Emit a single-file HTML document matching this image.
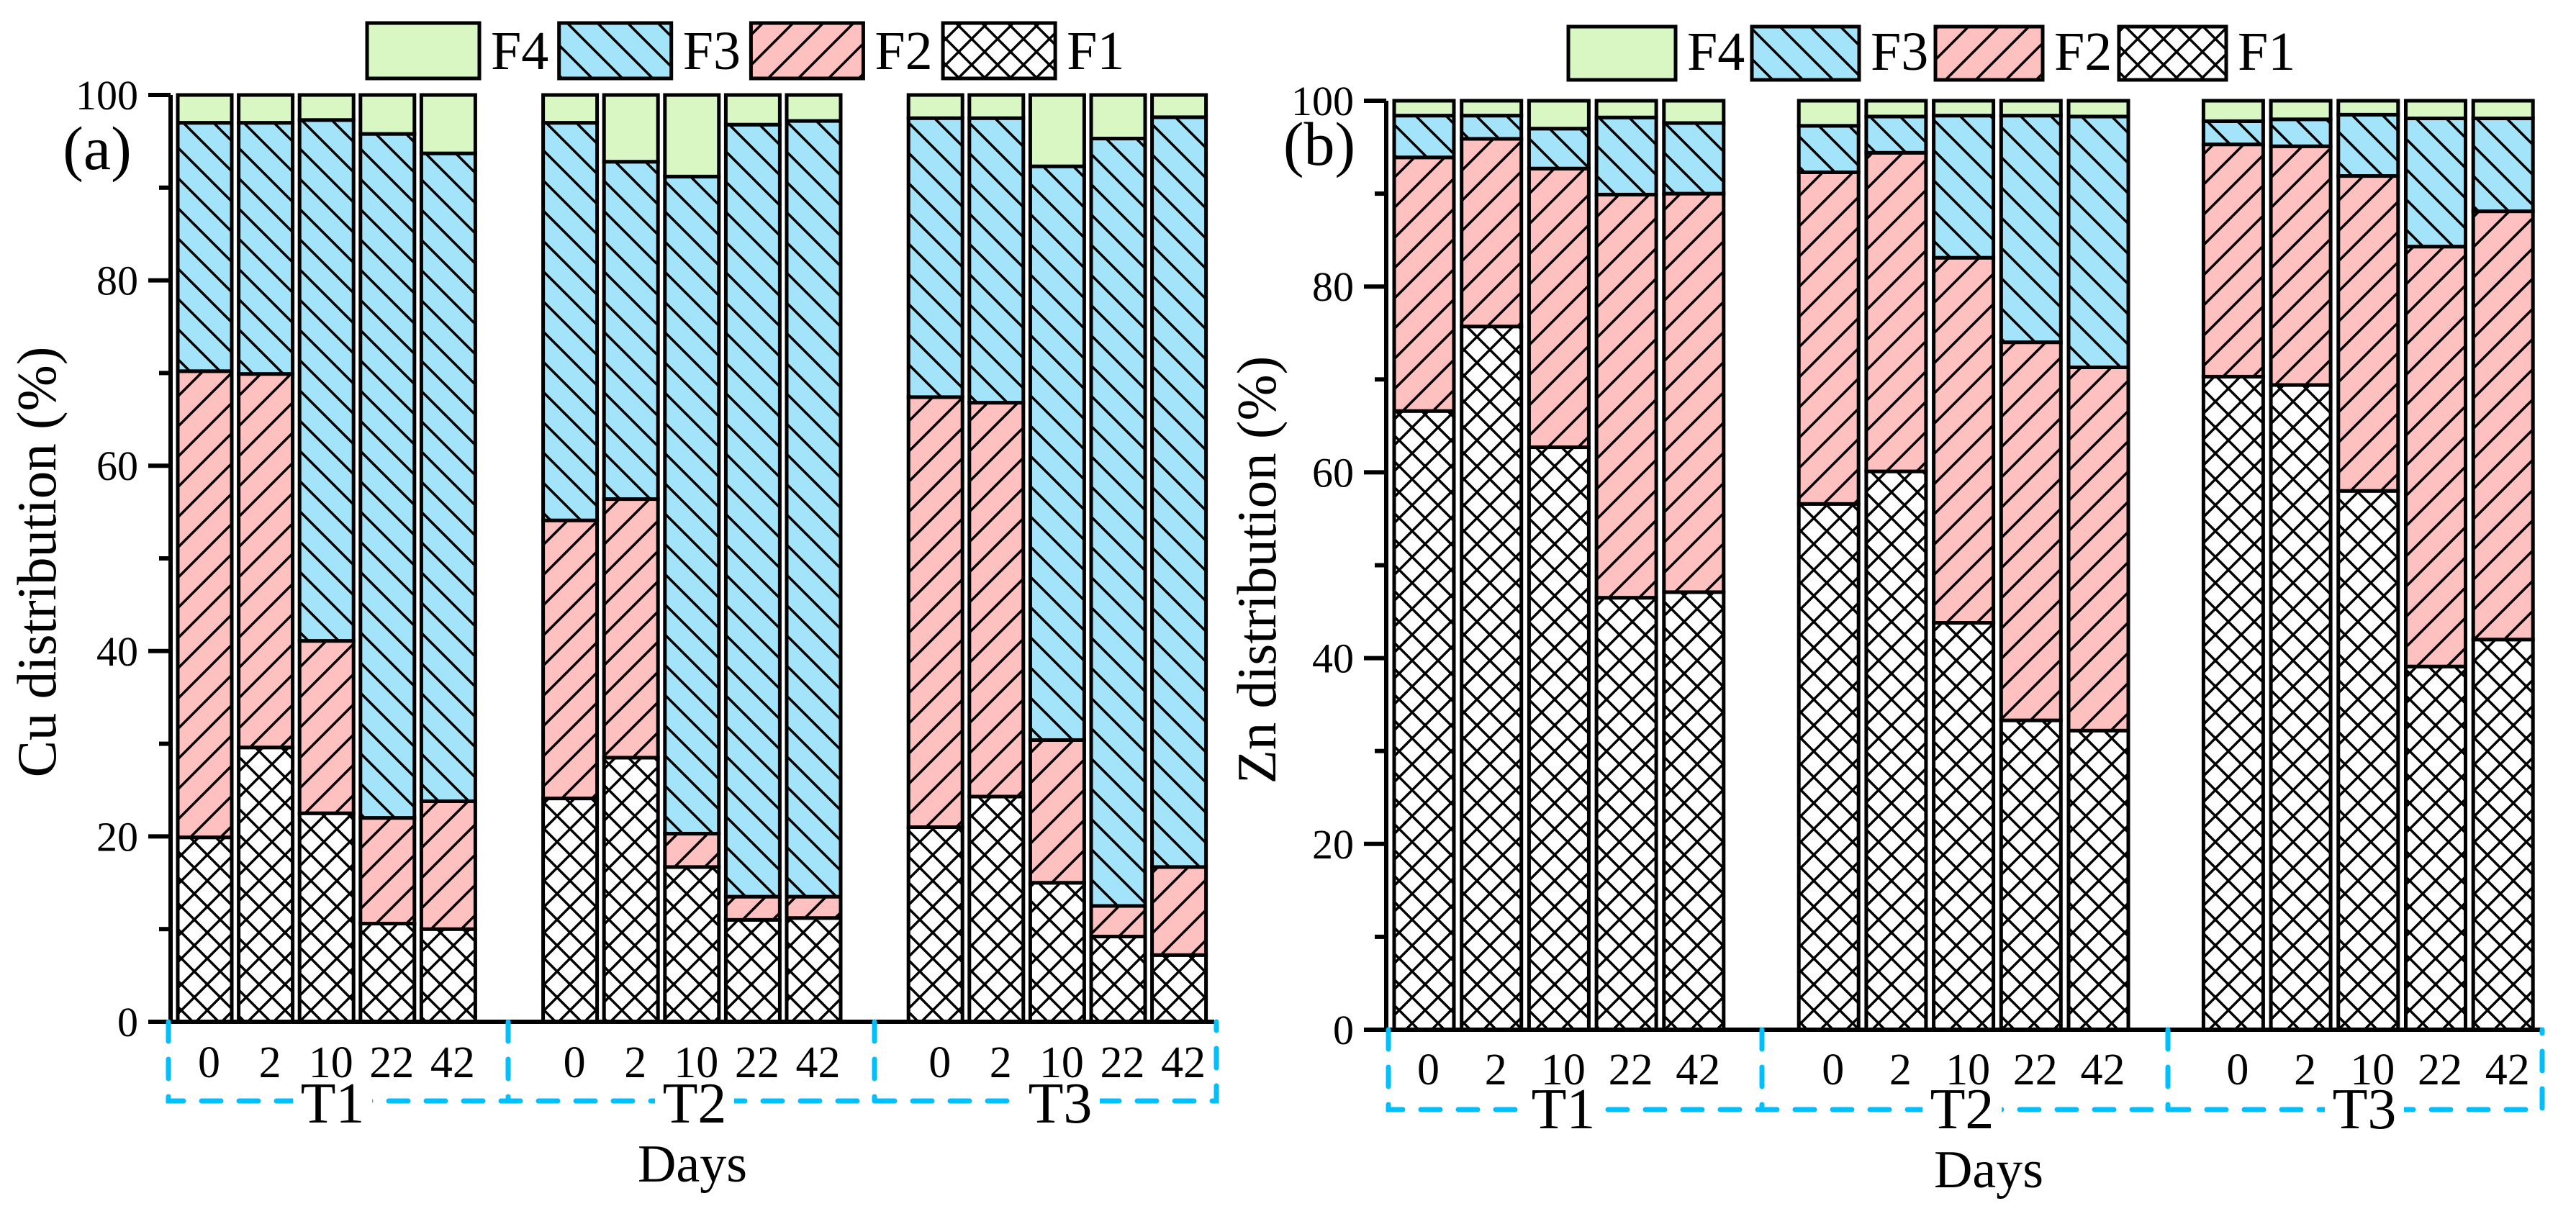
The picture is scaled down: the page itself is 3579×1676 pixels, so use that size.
<!DOCTYPE html>
<html><head><meta charset="utf-8"><title>Cu and Zn distribution</title>
<style>html,body{margin:0;padding:0;background:#fff}svg{display:block}text{font-family:"Liberation Serif",serif;fill:#000}</style>
</head><body>
<svg id="chart" xmlns="http://www.w3.org/2000/svg" width="3579" height="1676" viewBox="0 0 3579 1676">
<defs>
<pattern id="pF3" patternUnits="userSpaceOnUse" width="42" height="42"><rect width="42" height="42" fill="#a3e4fb"/><path d="M-5,-5 L47,47 M-5,37 L5,47 M37,-5 L47,5" stroke="#000" stroke-width="3.5"/></pattern>
<pattern id="pF2" patternUnits="userSpaceOnUse" width="42" height="42"><rect width="42" height="42" fill="#ffc0c0"/><path d="M-5,47 L47,-5 M-5,5 L5,-5 M37,47 L47,37" stroke="#000" stroke-width="3.5"/></pattern>
<pattern id="pF1" patternUnits="userSpaceOnUse" width="36" height="36"><rect width="36" height="36" fill="#fff"/><path d="M-4,-4 L40,40 M-4,40 L40,-4" stroke="#000" stroke-width="3.5"/></pattern>
</defs>
</svg>
<script>
const days = ["0","2","10","22","42"];
const groups = ["T1","T2","T3"];
const fractions = ["F4","F3","F2","F1"];
const yTicks = [0,20,40,60,80,100];
const cuF1 = [19.9,29.6,22.5,10.6,10.0, 24.1,28.5,16.7,11.0,11.2, 21.0,24.3,15.0,9.2,7.2];
const cuF2 = [50.3,40.3,18.6,11.4,13.8, 30.0,27.9,3.6,2.5,2.3, 46.4,42.5,15.4,3.3,9.5];
const cuF3 = [26.8,27.1,56.2,73.8,69.9, 42.9,36.4,70.9,83.3,83.7, 30.1,30.7,61.9,82.8,80.9];
const cuF4 = [3.0,3.0,2.7,4.2,6.3, 3.0,7.2,8.8,3.2,2.8, 2.5,2.5,7.7,4.7,2.4];
const znF1 = [66.6,75.7,62.7,46.5,47.1, 56.6,60.1,43.8,33.3,32.2, 70.3,69.4,58.0,39.1,42.0];
const znF2 = [27.3,20.2,30.0,43.4,42.9, 35.7,34.3,39.3,40.7,39.1, 25.0,25.7,33.9,45.2,46.1];
const znF3 = [4.5,2.5,4.3,8.3,7.6, 5.0,3.9,15.3,24.4,27.0, 2.5,2.9,6.6,13.8,10.0];
const znF4 = [1.6,1.6,3.0,1.8,2.4, 2.7,1.7,1.6,1.6,1.7, 2.2,2.0,1.5,1.9,1.9];

const NS="http://www.w3.org/2000/svg";
const svg=document.getElementById('chart');
function mk(tag,attrs,parent){const e=document.createElementNS(NS,tag);for(const k in attrs)e.setAttribute(k,attrs[k]);(parent||svg).appendChild(e);return e;}
const fills={F1:"url(#pF1)",F2:"url(#pF2)",F3:"url(#pF3)",F4:"#d9f7c3"};

const panels=[
 {id:"a",title:"Cu distribution (%)",tag:"(a)",series:{F1:cuF1,F2:cuF2,F3:cuF3,F4:cuF4},
  x0:245,pitch:84.6,bw:79,y0:1420,y100:132,axisX:237,axisEnd:1687,
  boxL:234,divs:[706,1215],boxR:1690,boxB:1530,tickBase:1497,grpBase:1560,grpC:[462,965,1473],
  daysX:962,daysY:1642,titleX:51,titleY:781,tagX:135,tagY:235,
  legX:510,legPitch:266.7,legW:156,legT:32,legB:109,legBase:96},
 {id:"b",title:"Zn distribution (%)",tag:"(b)",series:{F1:znF1,F2:znF2,F3:znF3,F4:znF4},
  x0:1935,pitch:93.7,bw:87,y0:1431,y100:140,axisX:1926,axisEnd:3532,
  boxL:1929,divs:[2448,3012],boxR:3532,boxB:1542,tickBase:1507,grpBase:1568,grpC:[2172,2726,3285],
  daysX:2763,daysY:1650,titleX:1746,titleY:792,tagX:1833,tagY:229,
  legX:2179,legPitch:255,legW:149,legT:37,legB:111,legBase:97}
];

panels.forEach(p=>{
 const g=mk('g',{});
 
 
 const yS=v=>p.y0-(p.y0-p.y100)*v/100;
 const slot=(gi,di)=>p.x0+(gi*6+di)*p.pitch;
 for(let gi=0;gi<groups.length;gi++){
  for(let di=0;di<days.length;di++){
   const idx=gi*5+di;let cum=0;
   ["F1","F2","F3","F4"].forEach(f=>{
    const v=p.series[f][idx];
    const top=yS(cum+v),bot=yS(cum);
    const r=mk('rect',{x:slot(gi,di)+2,y:top,width:p.bw-4,height:Math.max(0,bot-top),fill:fills[f],stroke:"#000","stroke-width":5},g);
    
    
    cum+=v;
   });
  }
 }
 const ax=mk('path',{d:`M${p.axisX},${p.y100} V${p.y0} H${p.axisEnd}`,stroke:"#000","stroke-width":6,fill:"none"},g);
 
 
 for(let v=0;v<=100;v+=10){
  const major=v%20===0;
  const t=mk('line',{x1:p.axisX-(major?31:16),x2:p.axisX,y1:yS(v),y2:yS(v),stroke:"#000","stroke-width":6},g);
  
  
 }
 yTicks.forEach(v=>{
  const t=mk('text',{x:p.axisX-45,y:yS(v)+20,"font-size":58,"text-anchor":"end"},g);
  t.textContent=v;
  
  
 });
 const db=mk('path',{d:`M${p.boxL},${p.y0} V${p.boxB} H${p.boxR} V${p.y0} `+p.divs.map(x=>`M${x},${p.y0} V${p.boxB}`).join(' '),stroke:"#00bfff","stroke-width":7,fill:"none","stroke-dasharray":"27 25","stroke-linecap":"round"},g);
 
 
 for(let gi=0;gi<3;gi++)for(let di=0;di<5;di++){
  const t=mk('text',{x:slot(gi,di)+p.bw/2+6,y:p.tickBase,"font-size":62,"text-anchor":"middle"},g);
  t.textContent=days[di];
  
  
 }
 groups.forEach((gn,gi)=>{
  const bg=mk('rect',{x:p.grpC[gi]-55,y:p.boxB-14,width:110,height:28,fill:"#fff"},g);
  
  
  const t=mk('text',{x:p.grpC[gi],y:p.grpBase,"font-size":80,"text-anchor":"middle"},g);
  t.textContent=gn;
  
  
 });
 const dd=mk('text',{x:p.daysX,y:p.daysY,"font-size":74,"text-anchor":"middle"},g);
 dd.textContent="Days";
 
 
 const yt=mk('text',{x:p.titleX,y:p.titleY,"font-size":77,"text-anchor":"middle",transform:`rotate(-90 ${p.titleX} ${p.titleY})`,"dominant-baseline":"central"},g);
 yt.textContent=p.title;
 
 
 const tg=mk('text',{x:p.tagX,y:p.tagY,"font-size":86,"text-anchor":"middle"},g);
 tg.textContent=p.tag;
 
 
 fractions.forEach((f,i)=>{
  const lx=p.legX+i*p.legPitch;
  const r=mk('rect',{x:lx,y:p.legT,width:p.legW,height:p.legB-p.legT,fill:fills[f],stroke:"#000","stroke-width":5},g);
  
  
  const t=mk('text',{x:lx+p.legW+16,y:p.legBase,"font-size":76},g);
  t.textContent=f;
  
  
 });
});
</script>
</body></html>
